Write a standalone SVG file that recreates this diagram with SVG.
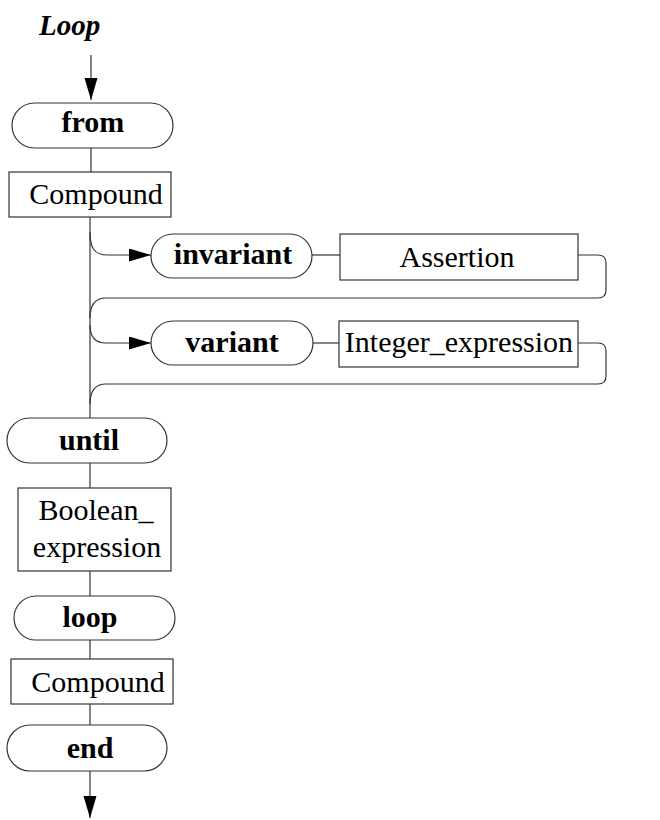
<svg xmlns="http://www.w3.org/2000/svg" width="660" height="820" viewBox="0 0 660 820">
<style>
  .box { fill: #fff; stroke: #333; stroke-width: 1.2; }
  .conn { fill: none; stroke: #333; stroke-width: 1.2; }
  .kw { font-family: "Liberation Serif", "Times New Roman", serif; font-weight: bold; font-size: 30px; text-anchor: middle; fill: #000; }
  .nt { font-family: "Liberation Serif", "Times New Roman", serif; font-size: 30px; text-anchor: middle; fill: #000; }
  .title { font-family: "Liberation Serif", "Times New Roman", serif; font-weight: bold; font-style: italic; font-size: 29px; fill: #000; }
</style>
<defs>
  <marker id="arrow" markerUnits="userSpaceOnUse" markerWidth="22" markerHeight="14" refX="22" refY="6.5" orient="auto">
    <path d="M0,0 L22,6.5 L0,13 z" fill="#000"/>
  </marker>
</defs>
<rect width="660" height="820" fill="#fff"/>
<text class="title" x="39" y="35">Loop</text>

<g id="connectors">
  <path class="conn" d="M91,55 V100" marker-end="url(#arrow)"/>
  <path class="conn" d="M91,148 V172"/>
  <path class="conn" d="M90,217 V418"/>
  <path class="conn" d="M90,232 C90,248 94,255 108,255 H151" marker-end="url(#arrow)"/>
  <path class="conn" d="M312,255 H340"/>
  <path class="conn" d="M578,255 H598 Q606,255 606,263 V290 Q606,298 598,298 H106 C95,298 90,305 90,318"/>
  <path class="conn" d="M90,325 C90,337 95,343 106,343 H151" marker-end="url(#arrow)"/>
  <path class="conn" d="M313,343 H339"/>
  <path class="conn" d="M578,343 H598 Q606,343 606,351 V376 Q606,384 598,384 H106 C95,384 90,391 90,404"/>
  <path class="conn" d="M90,463 V488"/>
  <path class="conn" d="M90,571 V596"/>
  <path class="conn" d="M90,640 V659"/>
  <path class="conn" d="M90,704 V725"/>
  <path class="conn" d="M90,771 V818" marker-end="url(#arrow)"/>
</g>

<g id="from">
  <rect class="box" x="12" y="103" width="161" height="45" rx="22.5"/>
  <text class="kw" x="93" y="132">from</text>
</g>
<g id="compound1">
  <rect class="box" x="9" y="172" width="162" height="45"/>
  <text class="nt" x="96" y="204">Compound</text>
</g>
<g id="invariant">
  <rect class="box" x="151" y="234" width="161" height="44" rx="22"/>
  <text class="kw" x="233" y="264">invariant</text>
</g>
<g id="assertion">
  <rect class="box" x="340" y="234" width="238" height="46"/>
  <text class="nt" x="457" y="267">Assertion</text>
</g>
<g id="variant">
  <rect class="box" x="151" y="321" width="162" height="44" rx="22"/>
  <text class="kw" x="232" y="352">variant</text>
</g>
<g id="integer_expression">
  <rect class="box" x="339" y="321" width="239" height="46"/>
  <text class="nt" x="459" y="352">Integer_expression</text>
</g>
<g id="until">
  <rect class="box" x="7" y="418" width="160" height="45" rx="22.5"/>
  <text class="kw" x="89" y="450">until</text>
</g>
<g id="boolean_expression">
  <rect class="box" x="18" y="488" width="153" height="83"/>
  <text class="nt" x="96" y="520">Boolean_</text>
  <text class="nt" x="97" y="557">expression</text>
</g>
<g id="loop">
  <rect class="box" x="14" y="596" width="161" height="44" rx="22"/>
  <text class="kw" x="90" y="627">loop</text>
</g>
<g id="compound2">
  <rect class="box" x="11" y="659" width="162" height="45"/>
  <text class="nt" x="98" y="692">Compound</text>
</g>
<g id="end">
  <rect class="box" x="7" y="725" width="160" height="46" rx="23"/>
  <text class="kw" x="90" y="758">end</text>
</g>
</svg>
